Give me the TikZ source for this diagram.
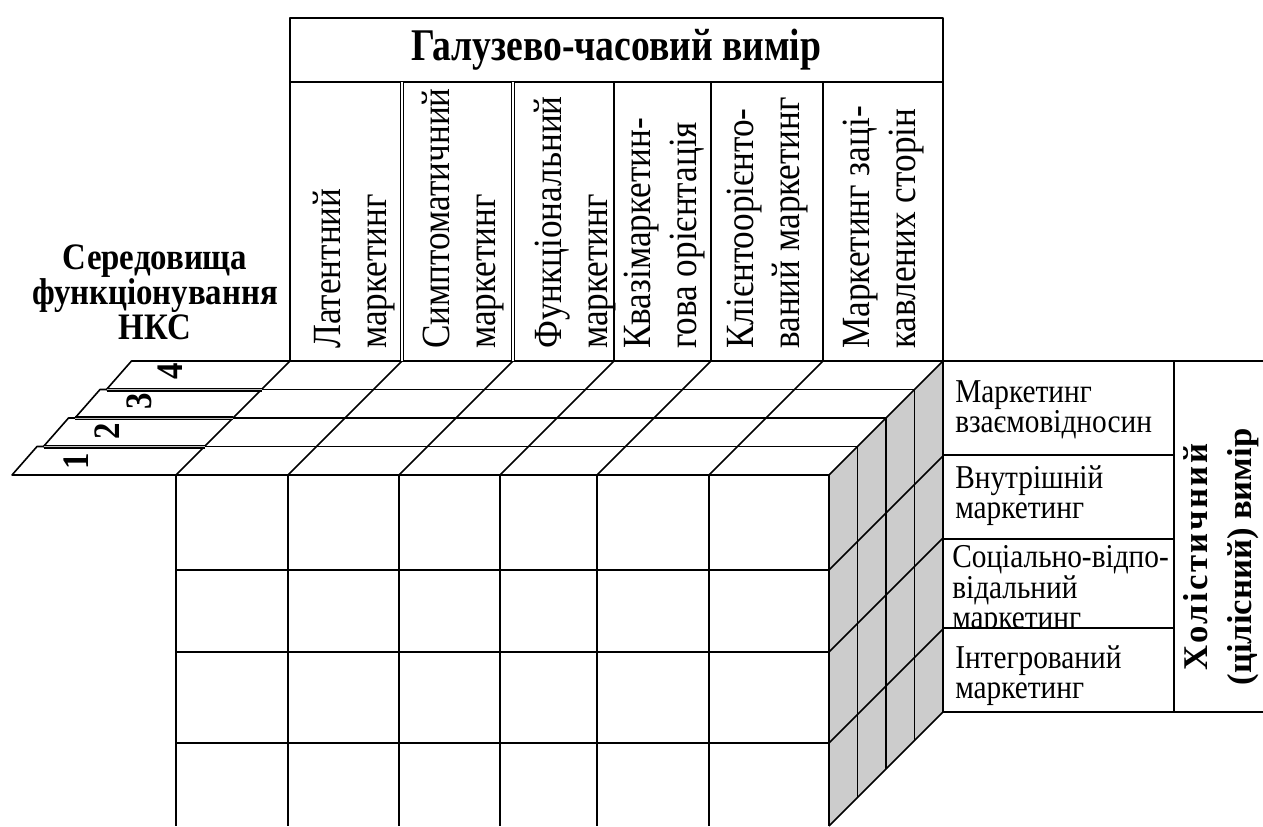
\documentclass[tikz,border=0pt]{standalone}
\usepackage{fontspec}
\setmainfont{Liberation Serif}
\newfontfamily\narrowfont[FakeStretch=0.88]{Liberation Serif}
\newfontfamily\titlefont[FakeStretch=0.83]{Liberation Serif}

\tikzset{
  edge/.style={line width=1.2pt},
  coltext/.style={rotate=90, anchor=north west, align=left, inner sep=0pt,
    font=\narrowfont\fontsize{30}{34.5}\selectfont},
  sidetext/.style={anchor=north west, align=left, inner sep=0pt,
    font=\narrowfont\fontsize{25}{23}\selectfont},
  boldtitle/.style={font=\titlefont\bfseries\fontsize{34}{38}\selectfont},
  lefttitle/.style={align=center, anchor=north, inner sep=0pt,
    font=\narrowfont\bfseries\fontsize{28}{26.25}\selectfont},
  envdigit/.style={rotate=90, font=\narrowfont\bfseries\fontsize{28}{30}\selectfont},
  holtitle/.style={rotate=90, align=center, font=\bfseries\fontsize{26}{33}\selectfont},
}

\begin{document}
\begin{tikzpicture}[x=0.75pt, y=-0.75pt, line join=round]
    \useasboundingbox (0,0) rectangle (1263,826);
    % shaded right face of the cube
    \fill[gray!40] (829,475) -- (943,361) -- (943,712) -- (829,826) -- cycle;
    % front face
    \foreach \x in {176,288,399,500,597,709,829}
        \draw[edge] (\x,475) -- (\x,826);
    \foreach \y in {570,652,743}
        \draw[edge] (176,\y) -- (829,\y);
    % top face
    \foreach \x in {176,288,399,500,597,709,829}
        \draw[edge] (\x,475) -- ++(114,-114);
    \foreach \s in {0,...,4}
        \draw[edge] (176+28.5*\s,475-28.5*\s) -- ++(653,0);
    % right face
    \foreach \s in {1,2,3}
        \draw[edge] (829+28.5*\s,475-28.5*\s) -- ++(0,351);
    \foreach \y in {570,652,743,826}
        \draw[edge] (829,\y) -- ++(114,-114);
    \draw[edge] (943,361) -- (943,712);
    % environments 1-4 on the left
    \foreach \s/\n in {0/1,1/2,2/3,3/4}{
        \draw[edge] (176+28.5*\s,475-28.5*\s) -- (12+31.5*\s,475-28.5*\s)
            -- (37+31.5*\s,446.5-28.5*\s) -- (204.5+28.5*\s,446.5-28.5*\s);
        \node[envdigit] (env\n) at (76+31.5*\s,461-30*\s) {\n};
    }
    \foreach \s in {1,2,3}
        \draw[edge, double=gray!50, double distance=0.6pt]
            (12+31.5*\s,475-28.5*\s) -- (176+28.5*\s,475-28.5*\s);
    \node[lefttitle] (sered) at (155,245) {Середовища\\функціонування\\НКС};

    % branch-time dimension
    \draw[edge] (290,18) rectangle (943,82);
    \node[boldtitle] (galuz) at (616.5,50) {Галузево-часовий вимір};
    \foreach \x in {290,614,711,823,943}
        \draw[edge] (\x,82) -- (\x,361);
    \foreach \x in {402,513}
        \draw[line width=0.9pt, double, double distance=0.8pt] (\x,82) -- (\x,361);
    \node[coltext] (latent) at (313,349) {Латентний\\маркетинг};
    \node[coltext] (sympt) at (422,349) {Симптоматичний\\маркетинг};
    \node[coltext] (funct) at (534,349) {Функціональний\\маркетинг};
    \node[coltext] (kvazi) at (624,349) {Квазімаркетин-\\гова орієнтація};
    \node[coltext] (client) at (727,349) {Клієнтоорієнто-\\ваний маркетинг};
    \node[coltext] (stake) at (843,349) {Маркетинг заці-\\кавлених сторін};

    % holistic dimension
    \node[sidetext] (rel) at (955,380) {Маркетинг\\взаємовідносин};
    \node[sidetext] (inner) at (955,465) {Внутрішній\\маркетинг};
    \node[sidetext] (social) at (952,545) {Соціально-відпо-\\відальний\\маркетинг};
    \filldraw[edge, fill=white] (943,628) rectangle (1174,712);
    \node[sidetext] (integr) at (955,645) {Інтегрований\\маркетинг};
    \draw[edge] (943,361) -- (1263,361);
    \draw[edge] (943,712) -- (1263,712);
    \draw[edge] (1174,361) -- (1174,712);
    \foreach \y in {455,539}
        \draw[edge] (943,\y) -- (1174,\y);
    \node[holtitle] (holist) at (1221,557)
        {{\addfontfeature{LetterSpace=7}Холістичний}\\(цілісний) вимір};
\end{tikzpicture}
\end{document}
